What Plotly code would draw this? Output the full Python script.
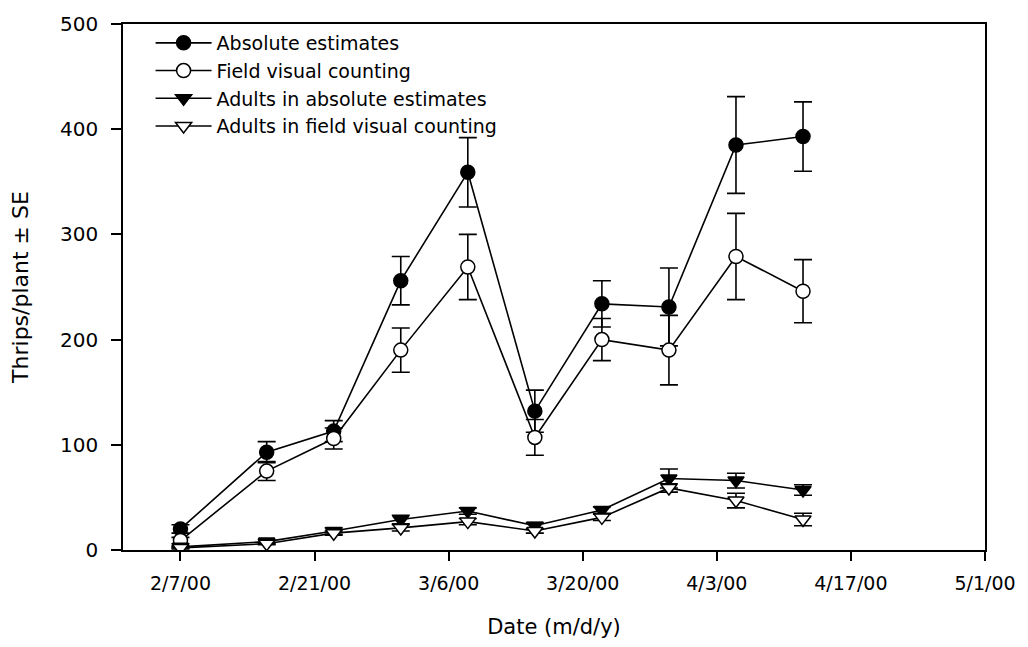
import plotly.graph_objects as go

dates = ["2000-02-07", "2000-02-16", "2000-02-23", "2000-03-01", "2000-03-08",
         "2000-03-15", "2000-03-22", "2000-03-29", "2000-04-05", "2000-04-12"]

abs_est = [20, 93, 113, 256, 359, 132, 234, 231, 385, 393]
abs_se = [4, 10, 10, 23, 33, 20, 22, 37, 46, 33]

field_vis = [9, 75, 106, 190, 269, 107, 200, 190, 279, 246]
field_se = [3, 9, 10, 21, 31, 17, 20, 33, 41, 30]

adult_abs = [3, 8, 18, 29, 37, 23, 38, 68, 66, 57]
adult_abs_se = [1, 2, 3, 4, 3, 3, 3, 9, 7, 5]

adult_field = [2, 6, 16, 21, 27, 18, 31, 59, 47, 29]
adult_field_se = [1, 1, 2, 3, 3, 2, 3, 4, 7, 6]

tick_dates = ["2000-02-07", "2000-02-21", "2000-03-06", "2000-03-20",
              "2000-04-03", "2000-04-17", "2000-05-01"]
tick_text = ["2/7/00", "2/21/00", "3/6/00", "3/20/00", "4/3/00", "4/17/00", "5/1/00"]

names = ["Absolute estimates", "Field visual counting",
         "Adults in absolute estimates", "Adults in field visual counting"]

FONT = "DejaVu Sans"

series = [
    (names[0], abs_est, abs_se, "circle", "black"),
    (names[1], field_vis, field_se, "circle", "white"),
    (names[2], adult_abs, adult_abs_se, "triangle-down", "black"),
    (names[3], adult_field, adult_field_se, "triangle-down", "white"),
]

fig = go.Figure()
for name, vals, se, sym, fill in series:
    fig.add_trace(go.Scatter(
        x=dates, y=vals, name=name, mode="lines+markers",
        line=dict(color="black", width=1.6),
        marker=dict(symbol=sym, size=14, color=fill,
                    line=dict(color="black", width=1.5)),
        error_y=dict(type="data", array=se, visible=True,
                     color="black", thickness=1.6, width=9),
    ))

fig.update_layout(
    width=1028, height=647,
    margin=dict(l=123, r=31, t=15, b=92),
    plot_bgcolor="white", paper_bgcolor="white",
    font=dict(family=FONT, size=20, color="black"),
    showlegend=True,
    legend=dict(x=0.032, y=1.0, xanchor="left", yanchor="top",
                bgcolor="rgba(0,0,0,0)", font=dict(family=FONT, size=19),
                itemwidth=56, tracegroupgap=0),
    xaxis=dict(
        type="date", range=["2000-02-01", "2000-05-01"],
        tickmode="array", tickvals=tick_dates, ticktext=tick_text,
        ticks="outside", ticklen=9, tickwidth=1.5, tickcolor="black",
        ticklabelstandoff=6, ticklabeloverflow="allow",
        showline=True, linecolor="black", linewidth=1.5, mirror=True,
        showgrid=False, zeroline=False,
        tickfont=dict(family=FONT, size=19),
        title=dict(text="Date (m/d/y)", font=dict(family=FONT, size=21), standoff=27),
    ),
    yaxis=dict(
        range=[0, 500], tickvals=[0, 100, 200, 300, 400, 500],
        ticks="outside", ticklen=10, tickwidth=1.5, tickcolor="black",
        ticklabelstandoff=9, ticklabeloverflow="allow",
        showline=True, linecolor="black", linewidth=1.5, mirror=True,
        showgrid=False, zeroline=False,
        tickfont=dict(family=FONT, size=20),
        title=dict(text="Thrips/plant ± SE", font=dict(family=FONT, size=22), standoff=25),
    ),
)

fig.write_html(
    "out.html",
    config={"displayModeBar": False},
    post_script="document.body.style.margin='0';document.body.style.overflow='hidden';",
)
